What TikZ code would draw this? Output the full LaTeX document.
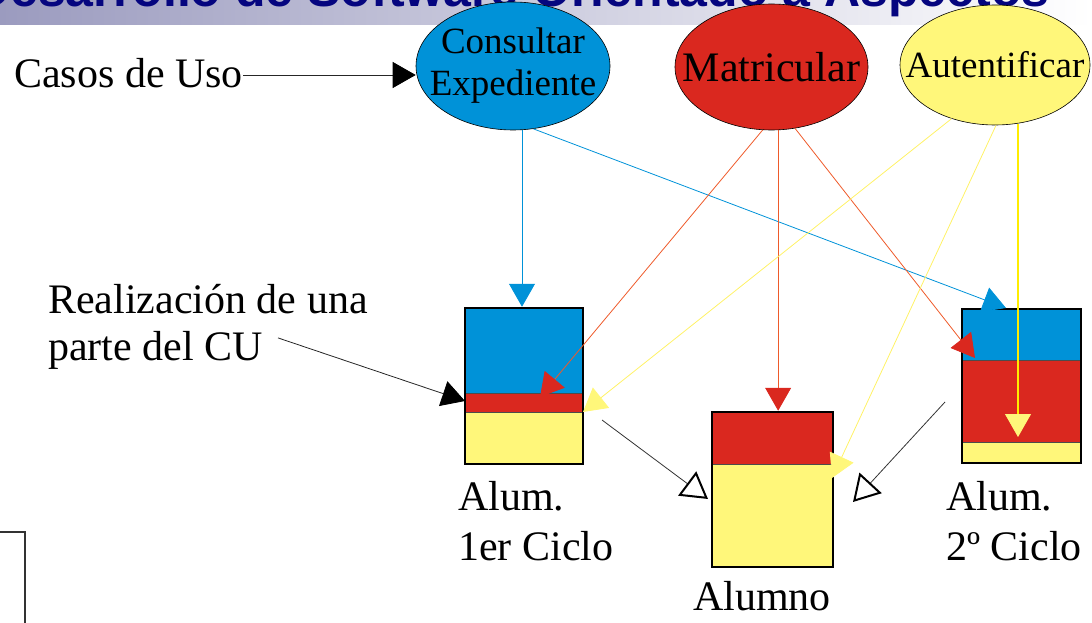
\documentclass[tikz,border=0pt]{standalone}
\usepackage{fontspec}
\setmainfont{Liberation Serif}
\newfontfamily\titlefont{Liberation Sans}
\usetikzlibrary{shapes.geometric}
\usetikzlibrary{arrows.meta}

\definecolor{cublue}{HTML}{0092D8}
\definecolor{cured}{HTML}{DA281F}
\definecolor{cuyellow}{HTML}{FFF77A}
\definecolor{redline}{HTML}{EE5A2A}
\definecolor{yelline}{HTML}{FFF266}
\definecolor{titlenavy}{HTML}{05057F}
\definecolor{bandgray}{HTML}{9B9BBF}

\newcommand{\lbltxt}{\fontsize{42}{47}\selectfont}

\tikzset{
  usecase/.style={ellipse, draw=black, line width=0.6pt, inner sep=0pt},
  alumbox/.style={draw=black, line width=2.5pt, inner sep=0pt},
  lbl/.style={anchor=base west, inner sep=0pt, font=\lbltxt},
  bigtip/.style={-{Triangle[length=23pt, width=26pt, #1]}},
  genarrow/.style={black!80, line width=0.8pt,
    -{Triangle[length=26pt, width=30pt, line width=2pt, fill=white, color=black]}},
}

\begin{document}
\begin{tikzpicture}[x=1pt, y=-1pt]
  \useasboundingbox (0,0) rectangle (1092,623);

  % title band
  \shade[left color=bandgray, right color=white] (0,0) rectangle (1092,25);
  \node[anchor=base west, inner sep=0pt, text=titlenavy,
    font=\titlefont\bfseries\fontsize{50}{50}\selectfont] (title) at (-26,7)
    {Desarrollo de Software Orientado a Aspectos};

  % use cases
  \node[usecase, fill=cublue, minimum width=194pt, minimum height=128pt,
    label={[font=\fontsize{37}{42}\selectfont, align=center]center:Consultar\\Expediente}] (cons) at (513,66) {};
  \node[usecase, fill=cured, minimum width=193pt, minimum height=126pt,
    label={[font=\fontsize{42}{47}\selectfont]center:Matricular}] (matr) at (771.5,67) {};
  \node[usecase, fill=cuyellow, minimum width=190pt, minimum height=120pt,
    label={[font=\fontsize{37}{42}\selectfont]center:Autentificar}] (auten) at (995,65) {};

  \node[lbl] (casos) at (14,88) {Casos de Uso};
  \draw[black!85, line width=0.8pt, bigtip={color=black}] (casos.east |- 0,75) -- (cons.west |- 0,75);

  % Alum. 1er Ciclo
  \fill[cublue] (465,308) rectangle (583,393);
  \fill[cured] (465,393) rectangle (583,412);
  \fill[cuyellow] (465,412) rectangle (583,464);
  \draw[black!70, line width=1pt] (465,393) -- (583,393) (465,412) -- (583,412);
  \node[alumbox, minimum width=118pt, minimum height=156pt] (alum1) at (524,386) {};

  % Alumno
  \fill[cured] (712,412) rectangle (833,464);
  \fill[cuyellow] (712,464) rectangle (833,567);
  \draw[black!70, line width=1pt] (712,464) -- (833,464);
  \node[alumbox, minimum width=121pt, minimum height=155pt] (alumno) at (772.5,489.5) {};

  % Alum. 2o Ciclo
  \fill[cublue] (962,309) rectangle (1081,360);
  \fill[cured] (962,360) rectangle (1081,442);
  \fill[cuyellow] (962,442) rectangle (1081,463);
  \draw[black!70, line width=1pt] (962,360) -- (1081,360) (962,442) -- (1081,442);
  \node[alumbox, minimum width=119pt, minimum height=154pt] (alum2) at (1021.5,386) {};

  % arrow ends
  \coordinate (a1red) at (540,397);
  \coordinate (a1yel) at (583,412);
  \coordinate (amyel) at (832,478);
  \coordinate (a2blue) at (1006,308);
  \coordinate (a2red) at (975,358);
  \coordinate (a2yel) at (1018,437);

  % realizations
  \draw[cublue, line width=0.8pt, bigtip={color=cublue}] (cons.-82) -- (alum1.north -| cons.-82);
  \draw[cublue, line width=0.8pt, bigtip={color=cublue}] (cons.-72) -- (a2blue);
  \draw[redline, line width=0.8pt, bigtip={color=cured}] (matr.-98) -- (a1red);
  \draw[redline, line width=0.8pt, bigtip={color=cured}] (matr.-84) -- (alumno.north -| matr.-84);
  \draw[redline, line width=0.8pt, bigtip={color=cured}] (matr.-69) -- (a2red);
  \draw[yelline, line width=0.8pt, bigtip={color=cuyellow}] (auten.-129) -- (a1yel);
  \draw[yelline, line width=0.8pt, bigtip={color=cuyellow}] (auten.-89) -- (amyel);
  \draw[yellow!95!orange, line width=2.5pt, bigtip={color=cuyellow, line width=0.8pt}] (a2yel |- auten.-70) -- (a2yel);

  \node[lbl] (real1) at (48,313) {Realización de una};
  \node[lbl] (real2) at (48,360) {parte del CU};
  \coordinate (realend) at (465,401);
  \draw[black!85, line width=0.8pt, bigtip={color=black}] (real2.east) ++(15,-12) -- (realend);

  % generalizations
  \coordinate (g1s) at (602,420);
  \coordinate (g1e) at (708,499);
  \coordinate (g2s) at (945,402);
  \coordinate (g2e) at (853,502);
  \draw[genarrow] (g1s) -- (g1e);
  \draw[genarrow] (g2s) -- (g2e);

  \node[lbl] (l1a) at (458,510) {Alum.};
  \node[lbl] (l1b) at (458,560) {1er Ciclo};
  \node[lbl] (lm) at (693,610) {Alumno};
  \node[lbl] (l2a) at (946,510) {Alum.};
  \node[lbl] (l2b) at (946,560) {2º Ciclo};

  % cut-off frame at bottom left
  \draw[black!80, line width=2pt] (0,532) -- (25,532) -- (25,630);
\end{tikzpicture}
\end{document}
